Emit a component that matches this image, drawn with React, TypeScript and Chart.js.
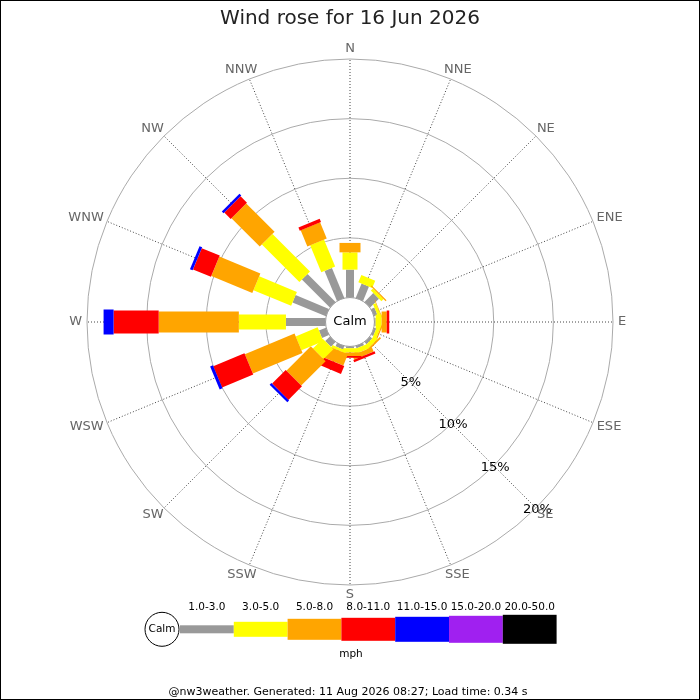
import { useEffect, useRef } from 'react';
import { Chart, registerables, type ChartConfiguration, type Plugin } from 'chart.js';

Chart.register(...registerables);
Chart.defaults.font.family = "'DejaVu Sans', sans-serif";

const directions = ['N', 'NNE', 'NE', 'ENE', 'E', 'ESE', 'SE', 'SSE', 'S', 'SSW', 'SW', 'WSW', 'W', 'WNW', 'NW', 'NNW'];
const speedBins = ['1.0-3.0', '3.0-5.0', '5.0-8.0', '8.0-11.0', '11.0-15.0', '15.0-20.0', '20.0-50.0'];
const binColors = ['#999999', '#ffff00', '#ffa500', '#ff0000', '#0000ff', '#a020f0', '#000000'];
const binWidths = [8, 15, 21, 23, 25, 27, 29];

// % of the day from each direction, per speed bin (mph)
const mph1to3 = [2.34, 1.3, 1.05, 0.3, 0.1, 0.2, 0.25, 0.2, 0.15, 0.3, 0.55, 0.63, 3.32, 3.03, 3.32, 2.72];
const mph3to5 = [1.45, 0.66, 0.25, 0.25, 0.5, 0.3, 0.35, 0.4, 0.35, 0.22, 1.17, 1.99, 3.95, 3.42, 4.45, 2.45];
const mph5to8 = [0.79, 0, 0.1, 0.05, 0.43, 0.1, 0.15, 0.4, 0.3, 1.02, 2.89, 4.51, 6.72, 3.72, 3.36, 1.46];
const mph8to11 = [0, 0, 0, 0, 0.21, 0, 0, 0.2, 0.15, 0.72, 1.61, 2.83, 3.78, 1.63, 0.76, 0.29];
const mph11to15 = [0, 0, 0, 0, 0, 0, 0, 0, 0, 0, 0.21, 0.25, 0.84, 0.24, 0.21, 0];
const mph15to20 = [0, 0, 0, 0, 0, 0, 0, 0, 0, 0, 0, 0, 0, 0, 0, 0];
const mph20to50 = [0, 0, 0, 0, 0, 0, 0, 0, 0, 0, 0, 0, 0, 0, 0, 0];

const ringTicks = [5, 10, 15, 20];
const scaleMin = -2.05; // leaves room for the calm circle
const scaleMax = 20;

const binSeries = [mph1to3, mph3to5, mph5to8, mph8to11, mph11to15, mph15to20, mph20to50];
const stacked = binSeries.map((_, b) =>
  directions.map((_, i) => binSeries.slice(0, b + 1).reduce((sum, s) => sum + s[i], 0)),
);

const FONT = "'DejaVu Sans', sans-serif";

const windRosePlugin: Plugin<'radar'> = {
  id: 'windRose',
  afterDatasetsDraw(chart) {
    const scale = chart.scales.r as any;
    const ctx = chart.ctx;
    ctx.save();
    ctx.lineCap = 'butt';
    directions.forEach((_, i) => {
      binSeries.forEach((series, b) => {
        if (series[i] <= 0) return;
        const from = b === 0 ? 0 : stacked[b - 1][i];
        const p0 = scale.getPointPositionForValue(i, from);
        const p1 = chart.getDatasetMeta(b).data[i];
        ctx.beginPath();
        ctx.moveTo(p0.x, p0.y);
        ctx.lineTo(p1.x, p1.y);
        ctx.lineWidth = binWidths[b];
        ctx.strokeStyle = binColors[b];
        ctx.stroke();
      });
    });

    const rCalm = scale.getDistanceFromCenterForValue(0);
    ctx.beginPath();
    ctx.arc(scale.xCenter, scale.yCenter, rCalm, 0, Math.PI * 2);
    ctx.fillStyle = '#ffffff';
    ctx.fill();
    ctx.lineWidth = 1;
    ctx.strokeStyle = '#999999';
    ctx.stroke();
    ctx.fillStyle = '#000000';
    ctx.font = `13px ${FONT}`;
    ctx.textAlign = 'center';
    ctx.textBaseline = 'middle';
    ctx.fillText('Calm', scale.xCenter, scale.yCenter);

    const se = directions.indexOf('SE');
    ringTicks.forEach((v) => {
      const p = scale.getPointPosition(se, scale.getDistanceFromCenterForValue(v) + 2);
      ctx.fillText(`${v}%`, p.x, p.y);
    });

    // compass labels just outside the outer ring, pushed out by half their box
    ctx.fillStyle = '#666666';
    directions.forEach((label, i) => {
      const p = scale.getPointPosition(i, scale.drawingArea + 5);
      const w = ctx.measureText(label).width;
      ctx.fillText(label, p.x + (w / 2) * Math.cos(p.angle), p.y + 5 * Math.sin(p.angle));
    });
    ctx.restore();
  },
  afterDraw(chart) {
    const ctx = chart.ctx;
    ctx.save();
    const legendY = 629.3;
    const legendLeft = 180;
    const segW = 53.8;

    ctx.beginPath();
    ctx.arc(162, legendY, 17, 0, Math.PI * 2);
    ctx.fillStyle = '#ffffff';
    ctx.fill();
    ctx.lineWidth = 1;
    ctx.strokeStyle = '#000000';
    ctx.stroke();

    ctx.textAlign = 'center';
    ctx.textBaseline = 'middle';
    ctx.fillStyle = '#000000';
    ctx.font = `10.5px ${FONT}`;
    ctx.fillText('Calm', 162, legendY);

    speedBins.forEach((label, b) => {
      const x = legendLeft + b * segW;
      ctx.fillStyle = binColors[b];
      ctx.fillRect(x, legendY - binWidths[b] / 2, segW, binWidths[b]);
      ctx.fillStyle = '#000000';
      ctx.fillText(label, x + segW / 2, 607.5);
    });
    ctx.fillText('mph', 351, 654);

    ctx.font = `11px ${FONT}`;
    ctx.fillText('@nw3weather. Generated: 11 Aug 2026 08:27; Load time: 0.34 s', 348, 692.5);

    ctx.lineWidth = 1;
    ctx.strokeStyle = '#000000';
    ctx.strokeRect(0.5, 0.5, 699, 699);
    ctx.restore();
  },
};

export default function App() {
  const canvasRef = useRef<HTMLCanvasElement>(null);

  useEffect(() => {
    if (!canvasRef.current) return;
    const config: ChartConfiguration<'radar'> = {
      type: 'radar',
      data: {
        labels: directions,
        datasets: speedBins.map((label, b) => ({
          label,
          data: stacked[b],
          showLine: false,
          fill: false,
          borderWidth: 0,
          borderColor: 'rgba(0,0,0,0)',
          backgroundColor: 'rgba(0,0,0,0)',
          pointRadius: 0,
          pointHoverRadius: 0,
          pointHitRadius: 0,
        })),
      },
      options: {
        responsive: false,
        animation: false,
        events: [],
        layout: { padding: { top: 0, bottom: 115, left: 0, right: 0 } },
        plugins: {
          legend: { display: false },
          tooltip: { enabled: false },
          title: {
            display: true,
            text: 'Wind rose for 16 Jun 2026',
            color: '#222222',
            font: { size: 20, weight: 'normal' },
            padding: { top: 7, bottom: 28 },
          },
        },
        scales: {
          r: {
            min: scaleMin,
            max: scaleMax,
            startAngle: 0,
            afterBuildTicks: (axis) => {
              axis.ticks = ringTicks.map((value) => ({ value }));
            },
            ticks: { display: false },
            grid: { circular: true, color: '#aaaaaa', lineWidth: 1 },
            angleLines: { color: '#444444', lineWidth: 1, borderDash: [1, 2] },
            pointLabels: { display: false },
          },
        },
      },
      plugins: [windRosePlugin],
    };
    const chart = new Chart(canvasRef.current, config);
    return () => chart.destroy();
  }, []);

  return (
    <div style={{ position: 'absolute', left: 0, top: 0, width: 700, height: 700, background: '#ffffff' }}>
      <canvas ref={canvasRef} width={700} height={700} />
    </div>
  );
}
